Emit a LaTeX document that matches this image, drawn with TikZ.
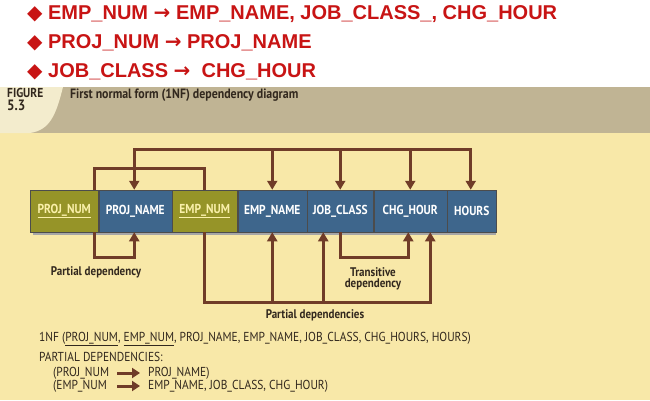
\documentclass[tikz,border=0pt]{standalone}
\usepackage{fontspec}
\setmainfont{PT Sans}[FakeStretch=0.88]
\newfontfamily\hdfont{Liberation Sans}
\newfontfamily\symfont{DejaVu Sans}
\usetikzlibrary{arrows.meta,calc}
\definecolor{redt}{RGB}{200,20,20}
\definecolor{tan}{RGB}{192,180,148}
\definecolor{cream}{RGB}{243,236,205}
\definecolor{bg}{RGB}{248,232,168}
\definecolor{olive}{RGB}{150,148,40}
\definecolor{blu}{RGB}{62,102,140}
\definecolor{brn}{RGB}{112,60,40}
\definecolor{dtext}{RGB}{50,40,30}
\definecolor{ylw}{RGB}{250,240,170}
\tikzset{
 bul/.style={anchor=west,text=redt,font=\hdfont\bfseries\fontsize{20}{22}\selectfont,inner sep=0},
 fld/.style={minimum height=42pt,inner sep=0,draw=black!70,line width=0.5pt,text=white,font=\fontsize{13}{15}\selectfont\bfseries},
 keyf/.style={fld,fill=olive,text=ylw},
 nkf/.style={fld,fill=blu},
 arr/.style={draw=brn,line width=2.6pt,-{Triangle[length=9pt,width=10pt]}},
 ln/.style={draw=brn,line width=2.6pt},
 lbl/.style={text=dtext,font=\fontsize{12.5}{13}\selectfont\bfseries,align=center,inner sep=0},
 txt/.style={text=dtext,font=\fontsize{13}{14}\selectfont,anchor=west,inner sep=0},
}
\newcommand\rarr{{\symfont\bfseries →}}
\begin{document}
\begin{tikzpicture}[x=1pt,y=-1pt]
\useasboundingbox (0,0) rectangle (650,400);
\fill[white] (0,0) rectangle (650,87);
\node[bul] (b1) at (27,14) {{\symfont ◆} EMP\_NUM \rarr{} EMP\_NAME, JOB\_CLASS\_, CHG\_HOUR};
\node[bul] (b2) at (27,43) {{\symfont ◆} PROJ\_NUM \rarr{} PROJ\_NAME};
\node[bul] (b3) at (27,72) {{\symfont ◆} JOB\_CLASS \rarr\ \ CHG\_HOUR};
% header
\fill[tan] (0,87) rectangle (650,133);
\fill[bg] (0,133) rectangle (650,400);
\fill[cream] (0,87) -- (63,87) .. controls (56,115) and (50,130) .. (30,133) -- (0,133) -- cycle;
\node[anchor=north west,inner sep=0,text=dtext,font=\fontsize{13}{14}\selectfont\bfseries,align=left] (fig) at (7,88) {FIGURE\\[-1pt]{\fontsize{15}{15}\selectfont 5.3}};
\node[anchor=north west,inner sep=0,text=dtext,font=\fontsize{13.5}{14}\selectfont\bfseries] (ttl) at (70,89) {First normal form (1NF) dependency diagram};
% shadow
\fill[black!35] (33,194) rectangle (496,235);
% fields
\node[keyf,minimum width=68pt,anchor=west] (pnum) at (30,211) {\underline{PROJ\_NUM}};
\node[nkf,minimum width=73pt,anchor=west] (pname) at (pnum.east) {PROJ\_NAME};
\node[keyf,minimum width=65pt,anchor=west] (enum) at (pname.east) {\underline{EMP\_NUM}};
\node[nkf,minimum width=69pt,anchor=west] (ename) at (enum.east) {EMP\_NAME};
\node[nkf,minimum width=66pt,anchor=west] (jc) at (ename.east) {JOB\_CLASS};
\node[nkf,minimum width=73pt,anchor=west] (ch) at (jc.east) {CHG\_HOUR};
\node[nkf,minimum width=49pt,anchor=west] (hr) at (ch.east) {HOURS};
% top connectors
\coordinate (t1) at ($(pname.north)+(-1,-40)$);
\coordinate (t2) at ($(hr.north)+(-1,-40)$);
\draw[ln] (t1) -- (t2);
\draw[arr] ([yshift=1.3pt]t1) -- (t1|-pname.north);
\foreach \n in {ename,jc,ch} \draw[arr] (t1-|\n.north) -- (\n.north);
\draw[arr] ([yshift=1.3pt]t2) -- (t2|-hr.north);
\coordinate (s1) at ($(pnum.north)+(30,-21)$);
\coordinate (s2) at ($(enum.north)+(0,-21)$);
\draw[ln] (s1|-pnum.north) -- (s1) -- (s2) -- (enum.north);
% bottom connectors
\coordinate (p1) at ($(pnum.south)+(30,25)$);
\draw[arr] (p1|-pnum.south) |- ($(p1-|pname.south)+(-1,0)$) -- ($(pname.south)+(-1,0)$);
\coordinate (e1) at ($(enum.south)+(0,70)$);
\coordinate (e2) at ($(ch.south)+(20,70)$);
\draw[ln] (enum.south) -- (e1) -- ([xshift=1.3pt]e2);
\draw[arr] ([yshift=1.3pt]e2) -- (e2|-ch.south);
\draw[arr] ([yshift=1.3pt]e1-|ename.south) -- (ename.south);
\draw[arr] ([yshift=1.3pt]$(e1-|jc.south)+(-17,0)$) -- ($(jc.south)+(-17,0)$);
\coordinate (j1) at ($(jc.south)+(0,25)$);
\draw[arr] (jc.south) -- (j1) -- ($(j1-|ch.south)+(-2,0)$) -- ($(ch.south)+(-2,0)$);
\node[lbl] (l1) at (96,272) {Partial dependency};
\node[lbl] (l2) at (373,279) {Transitive\\[-2pt]dependency};
\node[lbl] (l3) at (315,315) {Partial dependencies};
\node[txt] (nf) at (39,339) {1NF (\underline{PROJ\_NUM}, \underline{EMP\_NUM}, PROJ\_NAME, EMP\_NAME, JOB\_CLASS, CHG\_HOURS, HOURS)};
\node[txt] (pd) at (39,357) {PARTIAL DEPENDENCIES:};
\node[txt] (a1) at (53,373) {(PROJ\_NUM};
\node[txt] (a2) at (148,373) {PROJ\_NAME)};
\node[txt] (a3) at (53,386) {(EMP\_NUM};
\node[txt] (a4) at (148,386) {EMP\_NAME, JOB\_CLASS, CHG\_HOUR)};
\coordinate (r1) at (117,373); \coordinate (r2) at (140,373);
\coordinate (r3) at (117,386); \coordinate (r4) at (140,386);
\draw[draw=brn,line width=3pt,-{Triangle[length=8pt,width=10pt]}] (r1) -- (r2);
\draw[draw=brn,line width=3pt,-{Triangle[length=8pt,width=10pt]}] (r3) -- (r4);
\end{tikzpicture}
\end{document}
